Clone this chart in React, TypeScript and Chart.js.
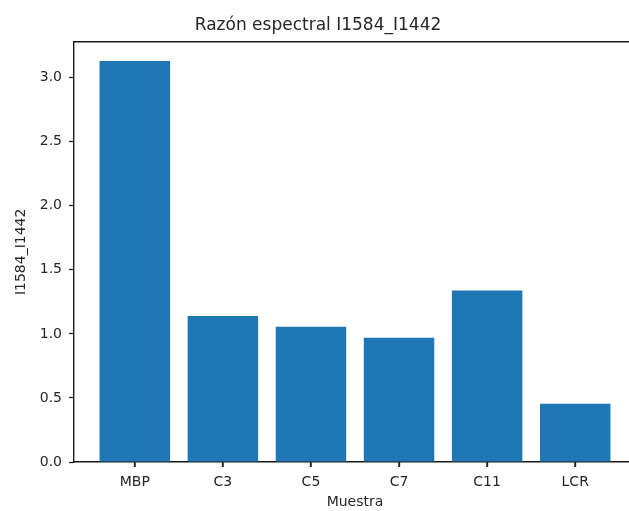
import React, { useEffect, useRef } from "react";
import { Chart, registerables } from "chart.js";

Chart.register(...registerables);

// ---- data ----
const categories: string[] = ["MBP", "C3", "C5", "C7", "C11", "LCR"];
const values: number[] = [3.13, 1.14, 1.055, 0.97, 1.338, 0.455];
const yTickValues: number[] = [0, 0.5, 1.0, 1.5, 2.0, 2.5, 3.0];
const titleText = "Razón espectral I1584_I1442";
const xTitle = "Muestra";
const yTitle = "I1584_I1442";

const CANVAS_W = 660;
const CANVAS_H = 511;
const FONT = "'DejaVu Sans', sans-serif";
const TEXT_COLOR = "#262626";
const BAR_COLOR = "#1f77b4";
const X_TICK_LEN = 5;

const framePlugin = {
  id: "frame",
  afterDraw(chart: any) {
    const { ctx, chartArea } = chart;
    const xs = chart.scales.x;
    ctx.save();
    ctx.strokeStyle = "#1a1a1a";
    ctx.lineWidth = 1.4;
    ctx.beginPath();
    ctx.moveTo(chartArea.left, chartArea.top);
    ctx.lineTo(chartArea.right, chartArea.top);
    ctx.stroke();
    // x tick marks under each category
    ctx.fillStyle = "#222222";
    categories.forEach((_, i) => {
      const px = Math.round(xs.getPixelForValue(i));
      ctx.fillRect(px - 0.7, Math.round(chartArea.bottom), 1.4, X_TICK_LEN);
    });
    ctx.restore();
  },
};

export default function App() {
  const ref = useRef<HTMLCanvasElement | null>(null);

  useEffect(() => {
    if (!ref.current) return;
    const chart = new Chart(ref.current, {
      type: "bar",
      data: {
        datasets: [
          {
            data: values.map((v, i) => ({ x: i, y: v })),
            backgroundColor: BAR_COLOR,
            borderWidth: 0,
            barPercentage: 0.8,
            categoryPercentage: 1.0,
          },
        ],
      },
      options: {
        responsive: false,
        animation: false,
        devicePixelRatio: 1,
        layout: { padding: { left: 0, right: 24, top: 0, bottom: 0 } },
        plugins: {
          legend: { display: false },
          tooltip: { enabled: false },
          title: {
            display: true,
            text: titleText,
            color: TEXT_COLOR,
            font: { family: FONT, size: 17, weight: "normal" },
            padding: { top: 15, bottom: 6.3 },
          },
        },
        scales: {
          x: {
            type: "linear",
            min: -0.69,
            max: 5.69,
            offset: false,
            afterBuildTicks: (axis: any) => {
              axis.ticks = categories.map((_, i) => ({ value: i }));
            },
            afterFit: (s: any) => {
              s.height = 49;
            },
            ticks: {
              autoSkip: false,
              maxRotation: 0,
              padding: 7,
              color: TEXT_COLOR,
              font: { family: FONT, size: 14 },
              callback: (v: any) => categories[Math.round(Number(v))] ?? "",
            },
            grid: {
              display: true,
              offset: false,
              drawOnChartArea: false,
              drawTicks: true,
              tickLength: X_TICK_LEN,
              tickColor: "#222",
              tickWidth: 1.3,
            },
            border: { display: true, color: "#1a1a1a", width: 1.4 },
            title: {
              display: true,
              text: xTitle,
              color: TEXT_COLOR,
              font: { family: FONT, size: 14 },
              padding: { top: 0, bottom: 0 },
            },
          },
          y: {
            type: "linear",
            min: 0,
            max: 3.281,
            afterBuildTicks: (axis: any) => {
              axis.ticks = yTickValues.map((v) => ({ value: v }));
            },
            afterFit: (s: any) => {
              s.width = 74;
            },
            ticks: {
              padding: 7,
              color: TEXT_COLOR,
              font: { family: FONT, size: 14 },
              callback: (v: any) => Number(v).toFixed(1),
            },
            grid: {
              display: true,
              drawOnChartArea: false,
              drawTicks: true,
              tickLength: 5,
              tickColor: "#222",
              tickWidth: 1.3,
            },
            border: { display: true, color: "#1a1a1a", width: 1.4 },
            title: {
              display: true,
              text: yTitle,
              color: TEXT_COLOR,
              font: { family: FONT, size: 14 },
              padding: { top: 12.6, bottom: 0 },
            },
          },
        },
      },
      plugins: [framePlugin],
    } as any);
    return () => chart.destroy();
  }, []);

  return (
    <div
      style={{
        position: "fixed",
        left: 0,
        top: 0,
        width: 629,
        height: 511,
        overflow: "hidden",
        background: "#ffffff",
      }}
    >
      <canvas
        ref={ref}
        width={CANVAS_W}
        height={CANVAS_H}
        style={{ display: "block", width: CANVAS_W, height: CANVAS_H }}
      />
    </div>
  );
}
